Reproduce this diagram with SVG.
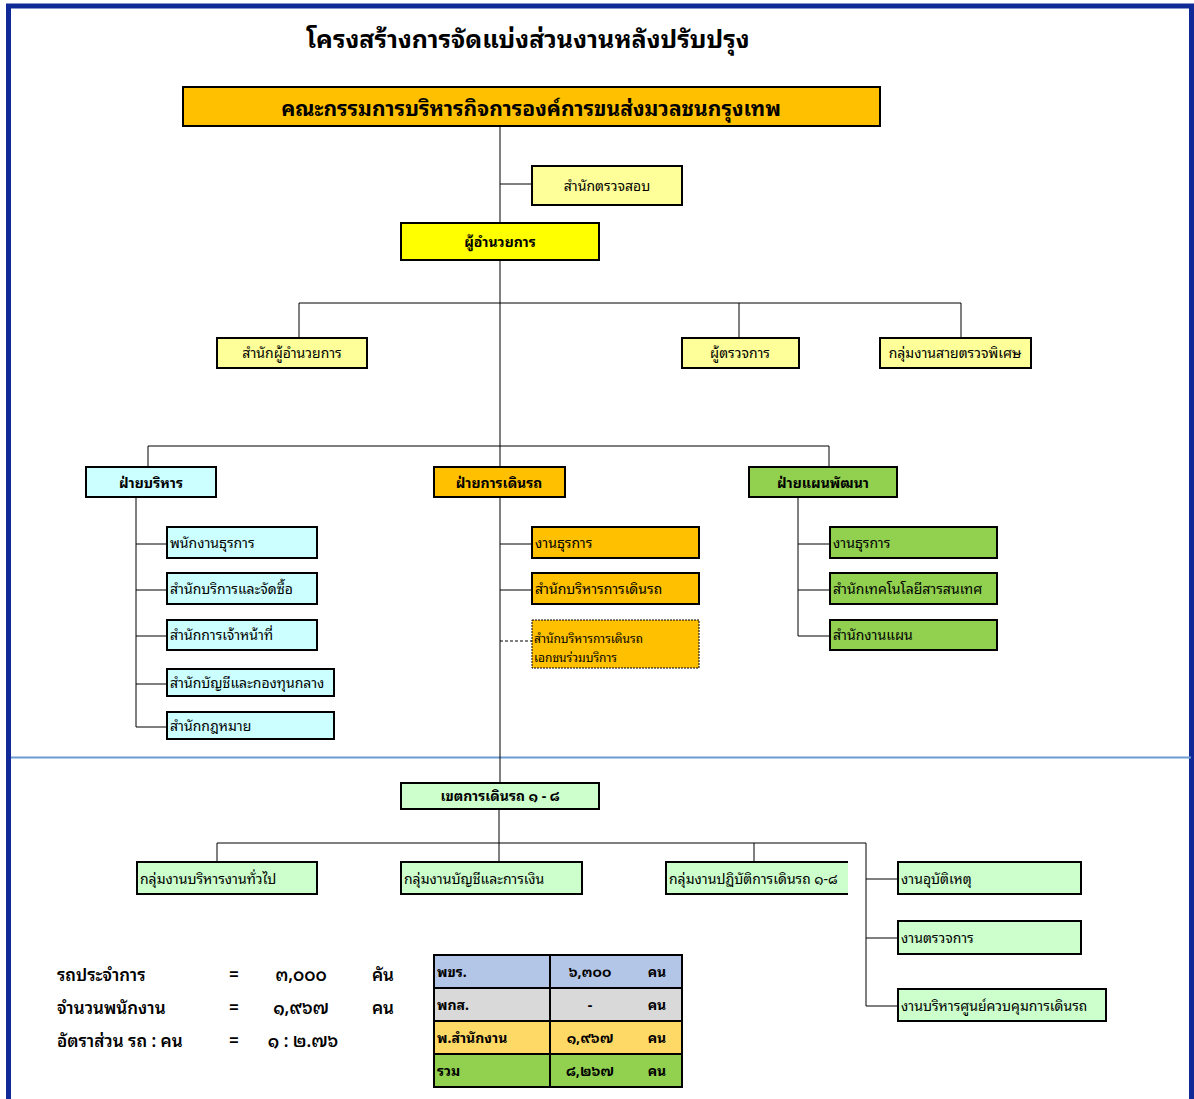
<svg xmlns="http://www.w3.org/2000/svg" width="1194" height="1099" viewBox="0 0 1194 1099">
<style>
text{font-family:"Tahoma","Noto Sans Thai Looped","Loma","Garuda","Noto Sans Thai","DejaVu Sans",sans-serif;fill:#000;}
.b{stroke:#000;stroke-width:2;}
.ln{stroke:#000;stroke-width:1;fill:none;}
.t14{font-size:14px;}
.c{text-anchor:middle;}
.bold{font-weight:bold;}
.yl{fill:#FFFF99;}
.cy{fill:#CCFFFF;}
.or{fill:#FFC000;}
.gr{fill:#92D050;}
.lg{fill:#CCFFCC;}
.st{font-size:17px;font-weight:600;}
</style>
<rect x="0" y="0" width="1194" height="1099" fill="#fff"/>
<path d="M8.5 1099 V6 H1191.5 V1099" fill="none" stroke="#0F2A96" stroke-width="5"/>
<line x1="11" y1="757.5" x2="1191" y2="757.5" stroke="#6C9BD2" stroke-width="2"/>
<text x="528" y="48" class="c bold" font-size="25">โครงสร้างการจัดแบ่งส่วนงานหลังปรับปรุง</text>

<g id="connectors">
<line class="ln" x1="500" y1="126" x2="500" y2="783"/>
<line class="ln" x1="500" y1="184" x2="532" y2="184" stroke="#555"/>
<path class="ln" d="M299 338 V303 H961 V338 M739 303 V338"/>
<path class="ln" d="M148 467 V446 H829 V467"/>
<path class="ln" d="M136 497 V727 H167 M136 544 H167 M136 590 H167 M136 636 H167 M136 684 H167"/>
<path class="ln" d="M500 544 H532 M500 590 H532"/>
<path class="ln" d="M500 641 H532" stroke-dasharray="3,2"/>
<path class="ln" d="M798 497 V636 H830 M798 544 H830 M798 590 H830"/>
<path class="ln" d="M499 809 V862 M217 862 V843 H866 V1006 H898 M754 843 V862 M866 879 H898 M866 938 H898"/>
</g>

<g id="n-board"><rect class="b or" x="183" y="87" width="697" height="39"/><text x="531" y="116" class="c bold" font-size="21">คณะกรรมการบริหารกิจการองค์การขนส่งมวลชนกรุงเทพ</text></g>
<g id="n-audit"><rect class="b yl" x="532" y="166" width="150" height="39"/><text x="607" y="191" class="c t14">สำนักตรวจสอบ</text></g>
<g id="n-director"><rect class="b" fill="#FFFF00" x="401" y="223" width="198" height="37"/><text x="500" y="247" class="c t14 bold">ผู้อำนวยการ</text></g>
<g id="n-diroffice"><rect class="b yl" x="217" y="338" width="150" height="30"/><text x="292" y="358" class="c t14">สำนักผู้อำนวยการ</text></g>
<g id="n-inspector"><rect class="b yl" x="682" y="338" width="117" height="30"/><text x="740" y="358" class="c t14">ผู้ตรวจการ</text></g>
<g id="n-special"><rect class="b yl" x="880" y="338" width="151" height="30"/><text x="955" y="358" class="c t14">กลุ่มงานสายตรวจพิเศษ</text></g>

<g id="n-admin"><rect class="b cy" x="86" y="467" width="130" height="30"/><text x="151" y="488" class="c t14 bold">ฝ่ายบริหาร</text></g>
<g id="n-ops"><rect class="b or" x="434" y="467" width="131" height="30"/><text x="499" y="488" class="c t14 bold">ฝ่ายการเดินรถ</text></g>
<g id="n-plan"><rect class="b gr" x="749" y="467" width="148" height="30"/><text x="823" y="488" class="c t14 bold">ฝ่ายแผนพัฒนา</text></g>

<g id="n-a1"><rect class="b cy" x="167" y="527" width="150" height="31"/><text x="170" y="548" class="t14">พนักงานธุรการ</text></g>
<g id="n-a2"><rect class="b cy" x="167" y="573" width="150" height="31"/><text x="170" y="594" class="t14">สำนักบริการและจัดซื้อ</text></g>
<g id="n-a3"><rect class="b cy" x="167" y="620" width="150" height="30"/><text x="170" y="640" class="t14">สำนักการเจ้าหน้าที่</text></g>
<g id="n-a4"><rect class="b cy" x="167" y="669" width="167" height="27"/><text x="170" y="688" class="t14">สำนักบัญชีและกองทุนกลาง</text></g>
<g id="n-a5"><rect class="b cy" x="167" y="712" width="167" height="27"/><text x="170" y="731" class="t14">สำนักกฎหมาย</text></g>

<g id="n-o1"><rect class="b or" x="532" y="527" width="167" height="31"/><text x="535" y="548" class="t14">งานธุรการ</text></g>
<g id="n-o2"><rect class="b or" x="532" y="573" width="167" height="31"/><text x="535" y="594" class="t14">สำนักบริหารการเดินรถ</text></g>
<g id="n-o3"><rect class="or" x="532" y="620" width="167" height="48" stroke="#000" stroke-width="1" stroke-dasharray="2,1"/><text x="534" y="643" font-size="12">สำนักบริหารการเดินรถ</text><text x="534" y="662" font-size="12">เอกชนร่วมบริการ</text></g>

<g id="n-p1"><rect class="b gr" x="830" y="527" width="167" height="31"/><text x="833" y="548" class="t14">งานธุรการ</text></g>
<g id="n-p2"><rect class="b gr" x="830" y="573" width="167" height="31"/><text x="833" y="594" class="t14">สำนักเทคโนโลยีสารสนเทศ</text></g>
<g id="n-p3"><rect class="b gr" x="830" y="620" width="167" height="30"/><text x="833" y="640" class="t14">สำนักงานแผน</text></g>

<g id="n-zone"><rect class="b lg" x="401" y="783" width="198" height="26"/><text x="500" y="801" class="c t14 bold">เขตการเดินรถ ๑ - ๘</text></g>
<g id="n-z1"><rect class="b lg" x="137" y="862" width="180" height="32"/><text x="140" y="884" class="t14">กลุ่มงานบริหารงานทั่วไป</text></g>
<g id="n-z2"><rect class="b lg" x="401" y="862" width="181" height="32"/><text x="404" y="884" class="t14">กลุ่มงานบัญชีและการเงิน</text></g>
<g id="n-z3"><rect class="lg" x="666" y="862" width="182" height="32"/><path d="M848 862 H666 V894 H848" fill="none" stroke="#000" stroke-width="2"/><text x="669" y="884" class="t14">กลุ่มงานปฏิบัติการเดินรถ ๑-๘</text></g>
<g id="n-z4"><rect class="b lg" x="898" y="862" width="183" height="32"/><text x="901" y="884" class="t14">งานอุบัติเหตุ</text></g>
<g id="n-z5"><rect class="b lg" x="898" y="921" width="183" height="33"/><text x="901" y="943" class="t14">งานตรวจการ</text></g>
<g id="n-z6"><rect class="b lg" x="898" y="989" width="208" height="32"/><text x="901" y="1011" class="t14">งานบริหารศูนย์ควบคุมการเดินรถ</text></g>

<g id="stats">
<text x="57" y="981" class="st">รถประจำการ</text><text x="234" y="981" class="c st">=</text><text x="301" y="981" class="c st">๓,๐๐๐</text><text x="383" y="981" class="c st">คัน</text>
<text x="57" y="1014" class="st">จำนวนพนักงาน</text><text x="234" y="1014" class="c st">=</text><text x="301" y="1014" class="c st">๑,๙๖๗</text><text x="383" y="1014" class="c st">คน</text>
<text x="57" y="1047" class="st">อัตราส่วน รถ : คน</text><text x="234" y="1047" class="c st">=</text><text x="303" y="1047" class="c st">๑ : ๒.๗๖</text>
</g>

<g id="table">
<rect x="434" y="955" width="248" height="33" fill="#B4C6E7"/>
<rect x="434" y="988" width="248" height="33" fill="#D9D9D9"/>
<rect x="434" y="1021" width="248" height="33" fill="#FFD966"/>
<rect x="434" y="1054" width="248" height="33" fill="#92D050"/>
<path d="M434 955 H682 V1087 H434 Z M434 988 H682 M434 1021 H682 M434 1054 H682 M550 955 V1087" fill="none" stroke="#000" stroke-width="2"/>
<text x="437" y="977" class="t14 bold">พขร.</text><text x="590" y="977" class="c t14 bold">๖,๓๐๐</text><text x="657" y="977" class="c t14 bold">คน</text>
<text x="437" y="1010" class="t14 bold">พกส.</text><text x="590" y="1010" class="c t14 bold">-</text><text x="657" y="1010" class="c t14 bold">คน</text>
<text x="437" y="1043" class="t14 bold">พ.สำนักงาน</text><text x="590" y="1043" class="c t14 bold">๑,๙๖๗</text><text x="657" y="1043" class="c t14 bold">คน</text>
<text x="437" y="1076" class="t14 bold">รวม</text><text x="590" y="1076" class="c t14 bold">๘,๒๖๗</text><text x="657" y="1076" class="c t14 bold">คน</text>
</g>
</svg>
